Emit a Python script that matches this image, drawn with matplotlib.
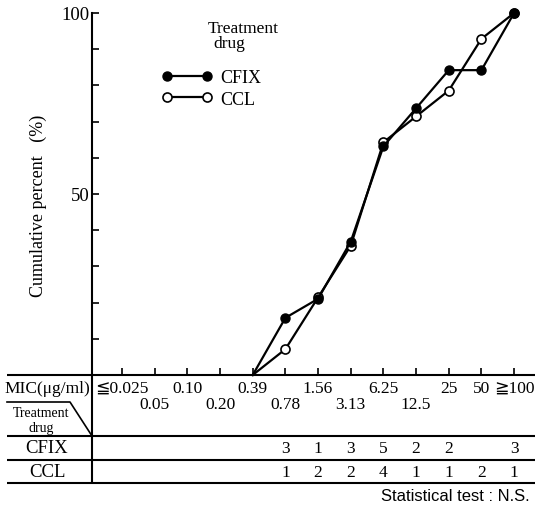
import matplotlib
matplotlib.use("Agg")
import matplotlib.pyplot as plt
import numpy as np
from matplotlib.transforms import blended_transform_factory

plt.rcParams["font.family"] = ["Liberation Serif", "DejaVu Serif", "DejaVu Sans"]

# MIC categories (µg/ml)
mic_labels = ["≦0.025", "0.05", "0.10", "0.20", "0.39", "0.78", "1.56",
              "3.13", "6.25", "12.5", "25", "50", "≧100"]
# number of strains per MIC, from 0.78 upward
cfix_counts = [3, 1, 3, 5, 2, 2, 0, 3]
ccl_counts = [1, 2, 2, 4, 1, 1, 2, 1]
first_count_idx = 5  # 0.78

W, H = 535, 510
fig = plt.figure(figsize=(W / 100, H / 100), dpi=100)


def px(x0, y0, x1, y1):
    # pixel box (top-left origin) -> figure fraction rect
    return [x0 / W, 1 - y1 / H, (x1 - x0) / W, (y1 - y0) / H]


ax = fig.add_axes(px(92, 14, 535, 376))
ax.patch.set_visible(False)
over = fig.add_axes([0, 0, 1, 1], zorder=-1)
over.set_xlim(0, W)
over.set_ylim(H, 0)
over.axis("off")

# cumulative percent curves, starting at 0 % at 0.39
x_idx = np.arange(first_count_idx - 1, len(mic_labels))
cfix_cum = np.concatenate([[0], np.cumsum(cfix_counts) / sum(cfix_counts) * 100])
ccl_cum = np.concatenate([[0], np.cumsum(ccl_counts) / sum(ccl_counts) * 100])

mk = range(1, len(x_idx))
l_ccl, = ax.plot(x_idx, ccl_cum, color="black", lw=1.6, marker="o", ms=6.5,
                 mfc="white", mec="black", mew=1.2, markevery=mk, label="CCL",
                 clip_on=False, zorder=3)
l_cfix, = ax.plot(x_idx, cfix_cum, color="black", lw=1.6, marker="o", ms=6.5,
                  mfc="black", mec="black", markevery=mk, label="CFIX",
                  clip_on=False, zorder=4)

ax.set_xlim(-0.92, 12.64)
ax.set_ylim(0, 100)
for s in ("top", "right"):
    ax.spines[s].set_visible(False)
for s in ("left", "bottom"):
    ax.spines[s].set_linewidth(1.5)
ax.set_xticks(np.arange(len(mic_labels)))
ax.set_xticklabels([])
ax.set_yticks(np.arange(0, 101, 10))
ax.set_yticklabels(["" if v not in (50, 100) else str(v) for v in range(0, 101, 10)])
ax.tick_params(direction="in", length=5, width=1.2, labelsize=13.5, pad=2)
ax.get_yticklines()[0].set_visible(False)
ax.set_ylabel("Cumulative percent   (%)", fontsize=13)
ax.yaxis.set_label_coords(-0.102, 0.47)

# legend
leg = ax.legend(handles=[l_cfix, l_ccl], loc="upper left", frameon=False,
                bbox_to_anchor=(153 / W, 1 - 61 / H), bbox_transform=fig.transFigure,
                numpoints=2, handlelength=2.8, handletextpad=0.4,
                labelspacing=0.25, borderpad=0, fontsize=13)
leg.legend_handles[0].set_markevery(None)
leg.legend_handles[1].set_markevery(None)
over.text(243, 29, "Treatment", ha="center", va="center", fontsize=12.5)
over.text(229, 44, "drug", ha="center", va="center", fontsize=12.5)

# table below the axis
lk = dict(color="black", lw=1.5, solid_capstyle="butt")
over.plot([7, 92], [376, 376], **lk)
for y in (437, 461, 484):
    over.plot([7, W], [y, y], **lk)
over.plot([92, 92], [376, 484], **lk)
over.plot([7, 70, 92], [403, 403, 437], color="black", lw=1.2)

tr = blended_transform_factory(ax.transData, over.transData)
for i, lab in enumerate(mic_labels):
    y = 389 if (i % 2 == 0 or i >= 10) else 405
    over.text(i, y, lab, transform=tr, ha="center", va="center", fontsize=12.5)

over.text(47, 389, "MIC(μg/ml)", ha="center", va="center", fontsize=12.5)
over.text(41, 414, "Treatment", ha="center", va="center", fontsize=10)
over.text(41, 429, "drug", ha="center", va="center", fontsize=10)
over.text(47, 449, "CFIX", ha="center", va="center", fontsize=13.5)
over.text(47, 473, "CCL", ha="center", va="center", fontsize=13.5)

for k, (a, b) in enumerate(zip(cfix_counts, ccl_counts)):
    i = first_count_idx + k
    if a:
        over.text(i, 449, str(a), transform=tr, ha="center", va="center", fontsize=12.5)
    if b:
        over.text(i, 473, str(b), transform=tr, ha="center", va="center", fontsize=12.5)

over.text(530, 497, "Statistical test : N.S.", ha="right", va="center",
          fontsize=12, family=["Liberation Sans", "DejaVu Sans"])

fig.savefig("out.png", dpi=100)
